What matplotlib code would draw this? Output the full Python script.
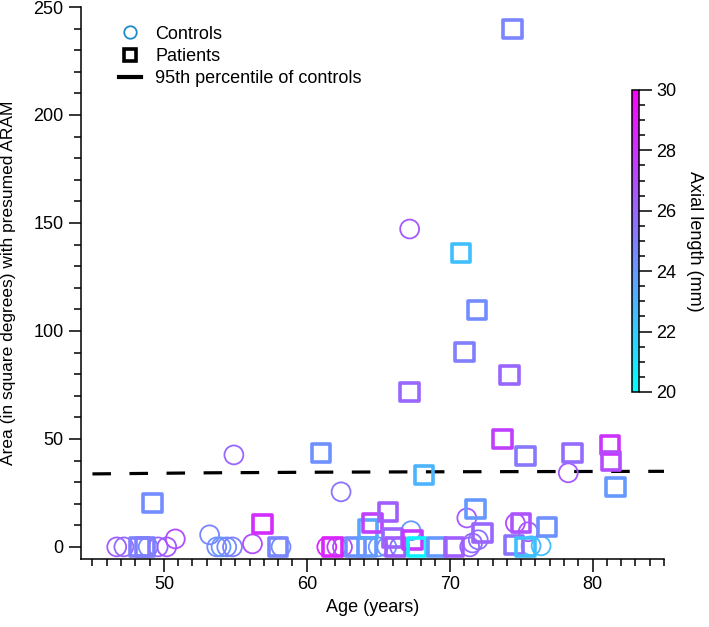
import numpy as np
import matplotlib.pyplot as plt
from matplotlib.lines import Line2D
from matplotlib.ticker import MultipleLocator
from matplotlib.colors import Normalize
from matplotlib.cm import ScalarMappable

plt.rcParams['font.family'] = ['Liberation Sans', 'DejaVu Sans']
plt.rcParams['font.size'] = 13

# Controls: age, area, axial length
ctrl_age = [46.7, 47.2, 48.9, 49.6, 50.2, 50.8, 53.2, 53.7, 54.0, 54.4, 54.8, 54.9,
            56.2, 58.2, 61.4, 62.1, 62.5, 62.4, 65.0, 65.6, 66.5, 67.2, 67.3,
            71.2, 71.4, 71.6, 72.0, 74.6, 75.5, 75.7, 76.4, 78.3]
ctrl_area = [0, 0, 0, 0, 0, 3.7, 5.6, 0, 0, 0, 0, 42.6,
             1.4, 0, 0, 0, 0, 25.5, 0, 0, 0, 147.2, 7.5,
             13.4, 0, 1.8, 3.3, 11.0, 7.0, 0.5, 0.5, 34.3]
ctrl_al = [26.3, 25.8, 24.5, 26.0, 26.5, 27.0, 24.8, 24.5, 24.0, 24.5, 25.0, 26.0,
           27.0, 24.5, 28.5, 27.5, 27.0, 25.5, 24.0, 24.2, 26.0, 26.5, 24.0,
           26.5, 26.0, 25.8, 25.5, 27.0, 26.5, 23.0, 22.5, 26.5]

# Patients: age, area, axial length
pat_age = [48.3, 48.7, 49.2, 56.9, 58.0, 61.0, 61.8, 63.4, 64.2, 64.3, 64.6, 65.7,
           66.0, 66.2, 67.2, 67.4, 67.7, 68.2, 69.1, 70.3, 70.8, 71.05, 71.8, 71.9,
           72.3, 73.7, 74.2, 74.4, 74.5, 75.0, 75.3, 75.3, 76.8, 78.6, 81.2, 81.3, 81.6]
pat_area = [0, 0, 20.4, 10.6, 0, 43.5, 0, 0, 0, 8.3, 11.1, 16.2,
            4.1, 0, 71.8, 3.2, 0, 33.3, 0, 0, 136.0, 90.3, 17.6, 109.7,
            6.5, 50.0, 79.6, 239.8, 0.9, 11.1, 0, 42.1, 9.3, 43.5, 47.2, 39.8, 27.8]
pat_al = [25.0, 25.0, 24.5, 28.3, 24.8, 24.3, 28.5, 24.3, 24.0, 23.5, 27.5, 26.3,
          26.0, 26.3, 26.0, 27.7, 20.5, 23.0, 24.0, 26.3, 22.5, 25.0, 24.0, 24.5,
          26.0, 27.5, 26.0, 24.8, 25.5, 26.7, 22.5, 25.3, 24.3, 25.8, 28.0, 27.0, 24.0]

# 95th percentile of controls
p95_age = [45, 53, 61, 70, 85]
p95_area = [33.8, 34.3, 34.6, 34.8, 35.0]

cmap = plt.cm.cool
norm = Normalize(vmin=20, vmax=30)

fig = plt.figure(figsize=(7.09, 6.27), dpi=100)
ax = fig.add_axes([81 / 709, 1 - 559 / 627, 583 / 709, 552 / 627])

ax.scatter(ctrl_age, ctrl_area, s=185, marker='o', facecolors='none',
           edgecolors=cmap(norm(ctrl_al)), linewidths=1.3, zorder=3)
ax.scatter(pat_age, pat_area, s=175, marker='s', facecolors='none',
           edgecolors=cmap(norm(pat_al)), linewidths=2.6, zorder=3)
ax.plot(p95_age, p95_area, color='black', lw=2.3, dashes=(5.8, 5.8), zorder=2)

ax.set_xlim(44.2, 85)
ax.set_ylim(-5.6, 250)
ax.xaxis.set_minor_locator(MultipleLocator(1))
ax.yaxis.set_major_locator(MultipleLocator(50))
ax.yaxis.set_minor_locator(MultipleLocator(10))
ax.set_xticks([50, 60, 70, 80])
ax.tick_params(which='major', direction='out', length=9, width=1.1, labelsize=13)
ax.tick_params(which='minor', direction='out', length=5, width=1.1)
for side in ['top', 'right']:
    ax.spines[side].set_visible(False)
for side in ['left', 'bottom']:
    ax.spines[side].set_linewidth(1.1)

ax.set_xlabel('Age (years)', fontsize=13, labelpad=4)
ax.set_ylabel('Area (in square degrees) with presumed ARAM', fontsize=12.5)
ax.yaxis.set_label_coords(-0.112, 0.5)

handles = [
    Line2D([], [], marker='o', ls='none', mfc='none', mec='#1e8cc8', mew=1.3, ms=9),
    Line2D([], [], marker='s', ls='none', mfc='none', mec='black', mew=2.6, ms=8),
    Line2D([], [], color='black', lw=3),
]
ax.legend(handles, ['Controls', 'Patients', '95th percentile of controls'],
          loc='upper left', bbox_to_anchor=(0.053, 0.979), frameon=False,
          handlelength=1.2, handletextpad=0.8, labelspacing=0.28, fontsize=13,
          borderaxespad=0)

# colour bar for axial length
cax = fig.add_axes([632 / 709, 1 - 392 / 627, 7 / 709, 302 / 627])
cb = fig.colorbar(ScalarMappable(norm=norm, cmap=cmap), cax=cax)
cb.set_ticks([20, 22, 24, 26, 28, 30])
cb.ax.yaxis.set_minor_locator(MultipleLocator(0.5))
cb.ax.tick_params(which='major', direction='out', length=9, width=1.1, labelsize=13)
cb.ax.tick_params(which='minor', direction='out', length=4.5, width=1.1)
cb.outline.set_linewidth(1.1)
cb.set_label('Axial length (mm)', rotation=270, fontsize=13, labelpad=19)

plt.savefig('out.png', dpi=100)
